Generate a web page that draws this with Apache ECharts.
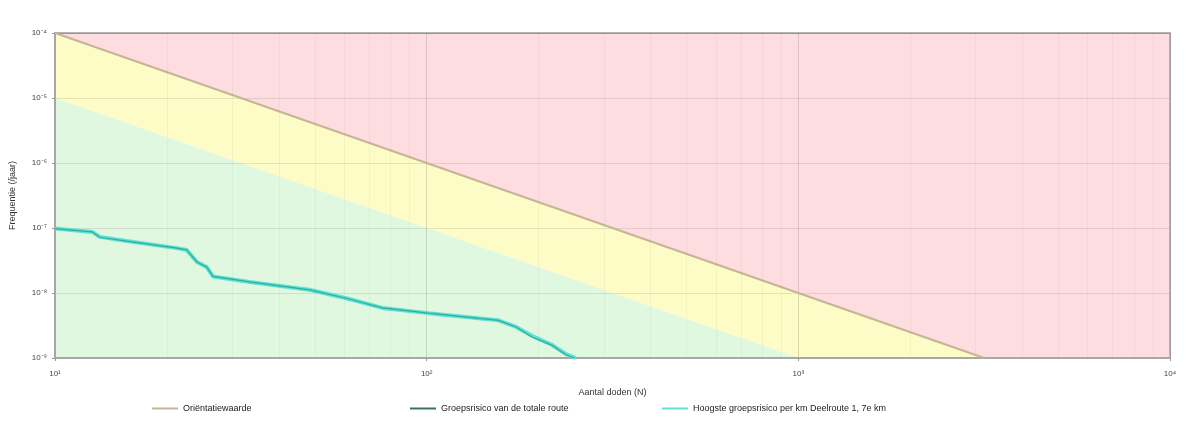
<!DOCTYPE html>
<html>
<head>
<meta charset="utf-8">
<script src="https://cdn.jsdelivr.net/npm/echarts@6/dist/echarts.min.js"></script>
<style>html,body{margin:0;padding:0;background:#fff;}#c{width:1196px;height:428px;}</style>
</head>
<body>
<div id="c"></div>
<script>
// ---- data ----
const xRange = [10, 10000];
const yRange = [1e-9, 1e-4];
// Oriëntatiewaarde (F = 1e-2 / N^2)
const orientatie = [[10, 1e-4], [100, 1e-6], [1000, 1e-8], [3162, 1e-9]];
// zone polygons [N, F]
const zoneRed = [[10, 1e-4], [10000, 1e-4], [10000, 1e-9], [3162, 1e-9]];
const zoneYellow = [[10, 1e-4], [3162, 1e-9], [1000, 1e-9], [10, 1e-5]];
const zoneGreen = [[10, 1e-5], [1000, 1e-9], [10, 1e-9]];
// Groepsrisico van de totale route
const totaleRoute = [[10, 9.8e-8], [12.6, 8.7e-8], [13.2, 7.2e-8], [15.6, 6.3e-8], [21.3, 4.9e-8], [22.6, 4.6e-8],
  [24.1, 3.0e-8], [25.6, 2.5e-8], [26.6, 1.8e-8], [33.4, 1.48e-8], [48.4, 1.12e-8], [60.8, 8.3e-9],
  [76, 5.9e-9], [101, 4.9e-9], [156, 3.8e-9], [174, 3.0e-9], [192, 2.1e-9], [217, 1.58e-9], [237, 1.12e-9], [250, 1e-9]];
// Hoogste groepsrisico per km
const hoogstePerKm = [[10, 9.8e-8], [12.6, 8.7e-8], [13.2, 7.3e-8], [15.6, 6.3e-8], [21.3, 4.9e-8], [22.6, 4.6e-8],
  [24.1, 3.0e-8], [25.6, 2.5e-8], [26.6, 1.8e-8], [33.4, 1.48e-8], [48.4, 1.12e-8], [60.8, 8.3e-9],
  [76, 5.9e-9], [101, 4.9e-9], [156, 3.8e-9], [174, 3.0e-9], [192, 2.2e-9], [217, 1.6e-9], [237, 1.15e-9], [252, 1e-9]];
const minorX = [20, 30, 40, 50, 60, 70, 80, 90, 200, 300, 400, 500, 600, 700, 800, 900, 2000, 3000, 4000, 5000, 6000, 7000, 8000, 9000];
const minorY = [2e-9, 3e-9, 4e-9, 5e-9, 6e-9, 7e-9, 8e-9, 9e-9, 2e-8, 3e-8, 4e-8, 5e-8, 6e-8, 7e-8, 8e-8, 9e-8,
  2e-7, 3e-7, 4e-7, 5e-7, 6e-7, 7e-7, 8e-7, 9e-7, 2e-6, 3e-6, 4e-6, 5e-6, 6e-6, 7e-6, 8e-6, 9e-6,
  2e-5, 3e-5, 4e-5, 5e-5, 6e-5, 7e-5, 8e-5, 9e-5];
const names = ['Oriëntatiewaarde', 'Groepsrisico van de totale route', 'Hoogste groepsrisico per km Deelroute 1, 7e km'];
const xTitle = 'Aantal doden (N)';
const yTitle = 'Frequentie (/jaar)';

const sup = {'-': '⁻', '0': '⁰', '1': '¹', '2': '²', '3': '³', '4': '⁴', '5': '⁵', '6': '⁶', '7': '⁷', '8': '⁸', '9': '⁹'};
function pow10Label(v) {
  const e = String(Math.round(Math.log10(v)));
  return '10' + e.split('').map(c => sup[c]).join('');
}

function polygonSeries(pts, color) {
  return {
    type: 'custom', silent: true, z: -1, clip: true,
    data: [0],
    renderItem: function (params, api) {
      return {
        type: 'polygon',
        shape: { points: pts.map(p => api.coord(p)) },
        style: { fill: color, stroke: null }
      };
    }
  };
}

const chart = echarts.init(document.getElementById('c'), null, { renderer: 'canvas' });
const legendCommon = {
  top: 399, icon: 'rect', itemWidth: 26, itemHeight: 2, itemGap: 4,
  textStyle: { fontSize: 9, color: '#222', fontFamily: 'Liberation Sans, Arial, sans-serif' }
};
chart.setOption({
  animation: false,
  backgroundColor: '#ffffff',
  grid: { left: 55, right: 26, top: 33, bottom: 70, show: true, borderColor: '#b5b5b5', borderWidth: 2 },
  legend: [
    Object.assign({ left: 147, data: [names[0]] }, legendCommon),
    Object.assign({ left: 405, data: [names[1]] }, legendCommon),
    Object.assign({ left: 657, data: [names[2]] }, legendCommon)
  ],
  xAxis: {
    type: 'log', logBase: 10, min: xRange[0], max: xRange[1],
    name: xTitle, nameLocation: 'middle', nameGap: 30,
    nameTextStyle: { fontSize: 9, color: '#333' },
    axisLine: { show: true, lineStyle: { color: '#a8a8a8', width: 2 } },
    axisTick: { show: true, length: 3, lineStyle: { color: '#999' } },
    axisLabel: { formatter: pow10Label, fontSize: 8, color: '#444', margin: 12 },
    splitLine: { show: true, lineStyle: { color: 'rgba(0,0,0,0.13)', width: 1 } }
  },
  yAxis: {
    type: 'log', logBase: 10, min: yRange[0], max: yRange[1],
    name: yTitle, nameLocation: 'middle', nameGap: 38, nameRotate: 90,
    nameTextStyle: { fontSize: 9, color: '#333' },
    axisLine: { show: true, lineStyle: { color: '#a8a8a8', width: 2 } },
    axisTick: { show: true, length: 3, lineStyle: { color: '#999' } },
    axisLabel: { formatter: pow10Label, fontSize: 8, color: '#444', margin: 8 },
    splitLine: { show: true, lineStyle: { color: 'rgba(0,0,0,0.09)', width: 1 } }
  },
  series: [
    polygonSeries(zoneRed, '#fddde0'),
    polygonSeries(zoneYellow, '#fdfbc6'),
    polygonSeries(zoneGreen, '#e0f8e0'),
    {
      type: 'line', silent: true, data: [], z: -0.5,
      markLine: {
        silent: true, symbol: 'none', label: { show: false }, animation: false,
        lineStyle: { color: 'rgba(0,0,0,0.035)', width: 1, type: 'solid' },
        data: minorX.map(v => ({ xAxis: v })).concat(minorY.map(v => ({ yAxis: v })))
      }
    },
    {
      name: names[0], type: 'line', data: orientatie, showSymbol: false, symbol: 'none',
      lineStyle: { color: '#c6b594', width: 2 }, itemStyle: { color: '#c6b594' }
    },
    {
      name: names[2], type: 'line', data: hoogstePerKm, showSymbol: false, symbol: 'none', z: 3,
      lineStyle: { color: '#5ee2d4', width: 4 }, itemStyle: { color: '#5ee2d4' }
    },
    {
      name: names[1], type: 'line', data: totaleRoute, showSymbol: false, symbol: 'none', z: 4,
      lineStyle: { color: '#33ab9d', width: 1.2 }, itemStyle: { color: '#3a6e68' }
    }
  ]
});
</script>
</body>
</html>
